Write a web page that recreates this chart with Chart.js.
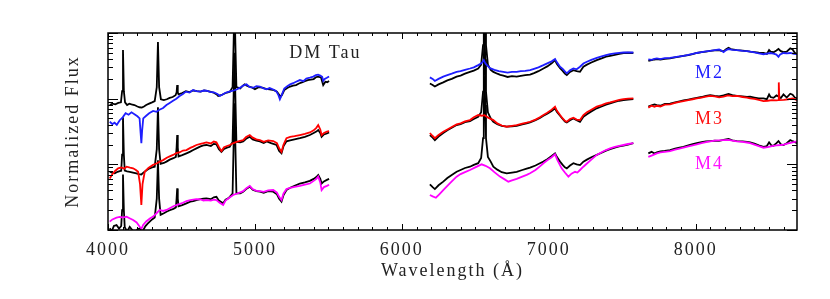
<!DOCTYPE html>
<html>
<head>
<meta charset="utf-8">
<script src="https://cdn.jsdelivr.net/npm/chart.js@4.4.0/dist/chart.umd.min.js"></script>
<style>
  html, body { margin: 0; padding: 0; background: #fff; }
  canvas { display: block; }
</style>
</head>
<body>
<canvas id="spectra" width="830" height="299"></canvas>
<script>
// wavelength (A), normalized flux (offset copies); null = gap between spectral segments
const m2Template = [
  [4012,44.5],[4030,41],[4045,43],[4060,40],[4080,47],[4100,52],[4120,60],[4140,57],[4160,62],[4180,58],[4200,54],[4215,50],[4222,30],[4227,21],[4232,32],[4240,50],[4260,55],[4280,60],[4307,65],[4330,63],[4350,68],[4375,72],[4398,80],[4420,86],[4440,92],[4465,100],[4488,110],[4510,118],[4530,128],[4555,124],[4579,135],[4600,130],[4630,128],[4650,133],[4670,132],[4695,127],[4720,125],[4745,118],[4761,110],[4780,116],[4800,123],[4825,128],[4852,132],[4875,138],[4900,147],[4920,158],[4943,165],[4965,150],[4990,147],[5010,155],[5034,153],[5060,143],[5080,139],[5100,145],[5125,138],[5145,130],[5160,113],[5170,98],[5180,110],[5200,143],[5220,155],[5240,165],[5260,172],[5280,181],[5306,192],[5330,185],[5350,203],[5375,210],[5397,217],[5415,228],[5430,232],[5445,224],[5458,215],[5465,186],[5475,200],[5490,208],[5505,217],
  null,
  [6191,211],[6210,200],[6225,186],[6250,200],[6282,217],[6310,228],[6340,240],[6373,256],[6400,262],[6430,275],[6464,288],[6490,300],[6520,324],[6545,350],[6558,387],[6570,340],[6600,292],[6630,275],[6660,262],[6691,256],[6720,250],[6750,255],[6782,256],[6810,262],[6840,265],[6873,272],[6900,285],[6930,300],[6964,324],[6990,345],[7020,370],[7043,401],[7055,360],[7077,306],[7095,285],[7110,260],[7123,243],[7145,270],[7168,288],[7190,280],[7213,306],[7236,343],[7260,365],[7290,390],[7327,418],[7360,440],[7390,460],[7418,475],[7450,488],[7480,497],[7509,505],[7540,508],[7576,505],
  null,
  [7678,396],[7700,390],[7720,405],[7736,410],[7760,400],[7790,415],[7826,418],[7860,430],[7890,440],[7917,449],[7950,465],[7980,480],[8008,496],[8040,510],[8070,525],[8099,535],[8130,548],[8160,560],[8175,540],[8190,510],[8205,545],[8224,570],[8250,555],[8281,547],[8320,535],[8350,530],[8371,520],[8400,505],[8430,490],[8462,475],[8485,485],[8508,496],[8530,485],[8550,470],[8564,434],[8575,470],[8598,496],[8620,490],[8644,496],[8670,480],[8693,475]
];

const dmTauTop = [
  [4012,80],[4030,84],[4050,82],[4070,86],[4088,88],[4096,130],[4102,549],[4108,130],[4116,88],[4130,80],[4145,84],[4160,82],[4180,80],[4200,76],[4215,74],[4230,73],[4245,76],[4260,80],[4280,84],[4300,88],[4318,92],[4332,150],[4340,730],[4348,150],[4360,98],[4380,95],[4400,98],[4420,103],[4440,106],[4460,113],[4467,125],[4471,161],[4475,125],[4480,116],[4505,122],[4530,130],[4555,126],[4580,133],[4605,130],[4630,128],[4655,134],[4680,130],[4700,127],[4720,123],[4740,116],[4750,110],[4770,113],[4790,119],[4810,124],[4830,128],[4848,150],[4855,700],[4861,3000],[4867,700],[4874,150],[4900,143],[4915,155],[4930,165],[4945,158],[4960,153],[4980,148],[5000,139],[5025,150],[5050,147],[5075,141],[5100,139],[5130,135],[5150,128],[5160,119],[5175,107],[5185,115],[5200,135],[5220,145],[5240,153],[5260,158],[5280,161],[5300,170],[5320,177],[5340,185],[5360,192],[5380,195],[5400,199],[5415,212],[5430,217],[5450,210],[5465,161],[5480,181],[5492,178],[5505,186],
  null,
  [6191,170],[6210,162],[6225,153],[6250,165],[6282,177],[6310,190],[6340,200],[6373,217],[6400,225],[6430,240],[6464,256],[6490,268],[6520,288],[6540,330],[6553,655],[6558,2000],[6563,6000],[6568,2000],[6573,655],[6586,330],[6605,275],[6623,256],[6650,240],[6670,230],[6691,224],[6720,214],[6750,220],[6782,217],[6810,222],[6840,228],[6873,232],[6900,245],[6930,262],[6964,288],[6990,310],[7020,345],[7043,387],[7055,340],[7077,292],[7095,265],[7110,240],[7123,229],[7145,255],[7168,272],[7190,262],[7213,256],[7236,306],[7260,330],[7290,355],[7327,387],[7360,410],[7390,435],[7418,449],[7450,465],[7480,480],[7509,496],[7540,500],[7576,496],
  null,
  [7678,375],[7700,385],[7720,395],[7736,401],[7760,395],[7790,405],[7826,410],[7860,425],[7890,435],[7917,449],[7950,460],[7980,478],[8008,496],[8040,510],[8070,522],[8099,535],[8130,545],[8160,550],[8175,535],[8190,525],[8205,560],[8224,596],[8240,570],[8260,560],[8281,549],[8320,540],[8350,530],[8371,520],[8400,510],[8430,500],[8462,496],[8485,480],[8500,549],[8510,520],[8530,510],[8550,540],[8564,570],[8580,530],[8598,510],[8620,520],[8644,585],[8660,560],[8675,500],[8693,475]
];

const m3Template = [
  [4012,6.1],[4025,6.8],[4035,7.3],[4050,8.0],[4069,8.7],[4090,9.0],[4110,8.6],[4126,9.2],[4150,8.9],[4171,8.7],[4190,8.2],[4205,7.7],[4218,5.0],[4227,2.4],[4235,5.0],[4250,7.7],[4275,8.8],[4307,9.8],[4330,10.3],[4352,11],[4375,11.6],[4400,12.6],[4420,13.2],[4443,13.9],[4465,14.8],[4490,15.3],[4510,16.2],[4534,16.5],[4560,17.8],[4580,18.6],[4602,19.7],[4630,20.5],[4650,21.0],[4670,21.6],[4700,20.8],[4720,22.2],[4738,21.6],[4755,18.4],[4772,15.9],[4790,18.2],[4810,19.0],[4829,19.7],[4850,20.9],[4875,22.0],[4900,22.8],[4920,23.4],[4940,26.0],[4965,27.9],[4985,25.5],[5010,24.0],[5034,23.4],[5060,22.0],[5090,23.2],[5125,22.6],[5150,21.0],[5165,17.5],[5181,15.5],[5195,20.0],[5215,25.0],[5240,26.2],[5270,26.8],[5306,27.9],[5340,29.0],[5374,30.6],[5400,33.0],[5418,36.0],[5431,39.6],[5445,34.0],[5454,27.9],[5470,30.0],[5490,31.5],[5505,32],
  null,
  [6191,30],[6210,27],[6225,25],[6250,28],[6282,31.3],[6310,34],[6340,37],[6373,40.5],[6400,42],[6430,45],[6464,47.2],[6490,52],[6520,56.3],[6545,55],[6563,56],[6590,51],[6623,47.2],[6650,42],[6680,39],[6714,37.4],[6750,38.5],[6782,39.6],[6820,41.5],[6850,43],[6873,44.5],[6910,48],[6940,52],[6964,56.3],[6990,61],[7020,68],[7043,75.5],[7055,66],[7077,56.3],[7095,50],[7110,46],[7123,44.5],[7145,49],[7168,51.3],[7190,48],[7213,47.2],[7236,56.3],[7260,62],[7290,68],[7327,75.5],[7360,80],[7390,85],[7418,87.6],[7450,92],[7480,96],[7509,98.7],[7540,100],[7576,101],
  null,
  [7678,73],[7700,78],[7720,75],[7736,78],[7760,76],[7790,81],[7826,82],[7860,86],[7890,89],[7917,92],[7950,95],[7980,98],[8008,101],[8040,104],[8070,107],[8099,110],[8130,108],[8160,105],[8190,107],[8220,112],[8250,109],[8281,110],[8320,106],[8350,104],[8371,101],[8400,99],[8430,96],[8462,92],[8490,93],[8520,95],[8550,94],[8562,95],[8566,177],[8570,95],[8600,96],[8630,98],[8660,101],[8693,95]
];

const dmTauMid = [
  [4012,7.7],[4030,7.4],[4046,7.3],[4065,7.7],[4080,7.9],[4090,8.0],[4096,14],[4102,52],[4108,14],[4114,8.0],[4130,7.8],[4148,7.7],[4170,7.5],[4193,7.3],[4210,7.1],[4227,7.0],[4245,7.6],[4265,8.2],[4284,8.7],[4300,9.0],[4318,9.2],[4332,17],[4340,74],[4348,17],[4358,10.2],[4380,10.5],[4398,11],[4420,11.8],[4445,12.4],[4462,13],[4467,18],[4471,27.9],[4475,18],[4480,13.2],[4505,13.8],[4534,14.7],[4560,15.6],[4580,16.5],[4602,17.5],[4630,18.8],[4650,19.4],[4670,19.7],[4700,19.0],[4720,20.5],[4738,20.2],[4755,17.0],[4772,15.5],[4790,17.2],[4810,18.0],[4829,18.5],[4848,22],[4855,110],[4861,500],[4867,110],[4874,22],[4900,21.6],[4920,22.4],[4940,24.5],[4965,26.3],[4985,24.0],[5010,23.0],[5034,22.4],[5060,21.2],[5080,22.4],[5110,21.0],[5147,19.7],[5165,16.0],[5181,14.7],[5195,19.0],[5215,22.4],[5240,23.2],[5270,24.0],[5306,25],[5340,26.2],[5374,28],[5400,30.0],[5418,31.5],[5431,33.3],[5445,30.0],[5454,26.3],[5470,28.5],[5490,29.5],[5505,30.6],
  null,
  [6191,27.9],[6210,25.5],[6225,23.4],[6250,26.5],[6282,30],[6310,33],[6340,36],[6373,39.6],[6400,41],[6430,44],[6464,45.5],[6490,49],[6520,53],[6540,62],[6553,128],[6558,400],[6563,1100],[6568,400],[6573,128],[6586,62],[6605,50],[6623,44.5],[6650,41],[6680,38.5],[6714,37.4],[6750,38],[6782,38.7],[6820,40.5],[6850,42],[6873,43.5],[6910,47],[6940,51],[6964,55],[6990,59],[7020,65],[7043,71.3],[7055,63],[7077,55],[7095,49],[7110,45],[7123,43.5],[7145,47],[7168,50],[7190,47],[7213,44.5],[7236,53],[7260,58],[7290,64],[7327,71.3],[7360,76],[7390,81],[7418,84.5],[7450,89],[7480,93],[7509,95.2],[7540,97],[7576,98.7],
  null,
  [7678,75.5],[7700,79],[7720,82],[7736,80],[7760,78],[7790,83],[7826,84],[7860,88],[7890,91],[7917,94],[7950,97],[7980,100],[8008,103],[8040,106],[8070,110],[8099,113],[8130,110],[8160,108],[8190,112],[8224,118],[8250,113],[8281,110],[8320,108],[8350,106],[8371,107],[8400,104],[8430,101],[8462,101],[8485,98],[8500,116],[8510,106],[8530,103],[8550,112],[8564,108],[8580,102],[8598,116],[8620,104],[8644,119],[8660,115],[8675,104],[8693,101]
];

const m4Template = [
  [4012,1.34],[4030,1.45],[4058,1.54],[4080,1.58],[4100,1.55],[4126,1.6],[4150,1.5],[4171,1.42],[4195,1.3],[4216,1.12],[4228,1.05],[4239,1.19],[4260,1.35],[4285,1.5],[4307,1.6],[4330,1.8],[4352,2.02],[4375,1.95],[4398,2.02],[4420,2.15],[4445,2.3],[4466,2.4],[4490,2.5],[4510,2.6],[4534,2.76],[4560,2.85],[4580,2.9],[4602,2.96],[4630,2.92],[4650,2.8],[4670,2.86],[4700,2.8],[4720,2.9],[4738,2.86],[4760,2.6],[4784,2.4],[4800,2.8],[4825,3.1],[4852,3.41],[4880,3.6],[4900,3.75],[4920,3.9],[4940,4.3],[4965,4.7],[4985,4.2],[5010,3.95],[5034,3.9],[5060,3.8],[5090,4.0],[5125,4.06],[5150,3.7],[5165,3.2],[5181,2.86],[5195,3.6],[5215,4.2],[5240,4.4],[5270,4.55],[5306,4.7],[5340,4.9],[5374,5.1],[5400,5.6],[5418,6.0],[5431,6.5],[5445,5.3],[5454,4.06],[5470,4.5],[5490,4.7],[5505,4.9],
  null,
  [6191,3.41],[6210,3.25],[6232,3.1],[6255,3.5],[6282,4.06],[6310,4.7],[6340,5.5],[6373,6.5],[6400,7.1],[6430,7.6],[6464,8.19],[6500,9.0],[6543,10],[6570,9.5],[6600,8.7],[6630,7.6],[6668,6.5],[6700,5.9],[6725,5.45],[6750,5.7],[6782,6.0],[6820,6.5],[6850,6.9],[6873,7.3],[6910,8.2],[6940,9.3],[6964,10.4],[6990,11.5],[7020,12.8],[7043,14.2],[7060,11.5],[7088,8.7],[7110,7.5],[7134,6.5],[7155,7.2],[7179,7.7],[7195,7.5],[7213,8.19],[7236,9.2],[7260,10.3],[7290,11.8],[7327,13.9],[7360,15.3],[7390,16.5],[7418,17.5],[7450,18.4],[7480,19.1],[7509,19.7],[7540,20.4],[7576,21],
  null,
  [7678,13],[7700,13.6],[7720,14.2],[7736,14.7],[7760,15.2],[7790,15.5],[7826,15.9],[7860,16.7],[7890,17.3],[7917,17.9],[7950,18.8],[7980,19.5],[8008,20.2],[8040,21],[8070,21.8],[8099,22.4],[8130,22.9],[8160,23.2],[8190,23.4],[8224,23.6],[8250,23],[8281,22.4],[8320,22],[8350,21.5],[8371,21],[8400,20],[8430,18.9],[8462,17.9],[8490,18.3],[8520,19],[8550,19.4],[8580,19.7],[8600,20],[8630,20.8],[8660,21.6],[8693,22.4]
];

const dmTauLow = [
  [4012,1.06],[4025,0.95],[4040,1.15],[4058,1.19],[4075,1.05],[4090,1.15],[4096,2.0],[4102,7.0],[4108,2.0],[4114,1.1],[4130,0.95],[4148,1.12],[4165,1.0],[4185,0.9],[4200,1.02],[4216,1.06],[4235,0.95],[4255,1.15],[4270,1.25],[4284,1.34],[4300,1.45],[4318,1.55],[4332,3.0],[4340,11.5],[4348,3.0],[4358,1.7],[4380,1.8],[4398,1.9],[4420,2.0],[4445,2.1],[4462,2.2],[4467,3.0],[4471,4.3],[4475,3.0],[4480,2.3],[4505,2.4],[4534,2.55],[4560,2.7],[4580,2.75],[4602,2.86],[4630,2.95],[4650,3.0],[4670,3.04],[4700,2.95],[4720,3.15],[4738,3.2],[4755,2.8],[4784,2.55],[4800,2.9],[4815,3.0],[4829,3.2],[4848,3.6],[4855,20],[4861,85],[4867,20],[4874,3.6],[4900,3.6],[4920,3.83],[4940,4.2],[4965,4.56],[4985,4.1],[5010,3.9],[5034,3.83],[5060,3.7],[5090,3.9],[5125,3.83],[5150,3.5],[5165,3.0],[5181,2.7],[5195,3.4],[5215,4.06],[5240,4.4],[5270,4.7],[5306,5.1],[5340,5.3],[5374,5.6],[5400,6.0],[5418,6.4],[5431,6.87],[5445,6.0],[5454,5.1],[5470,5.5],[5490,5.8],[5505,6.0],
  null,
  [6191,4.95],[6210,4.5],[6225,4.2],[6250,4.8],[6282,5.45],[6310,6.2],[6340,6.9],[6373,7.7],[6400,8.2],[6430,8.8],[6464,9.2],[6490,9.8],[6520,10.4],[6540,12.5],[6553,25],[6558,80],[6563,220],[6568,80],[6573,25],[6586,13],[6605,11],[6623,9.2],[6650,8.3],[6680,7.6],[6714,7.3],[6750,7.5],[6782,7.7],[6820,8.2],[6850,8.6],[6873,8.9],[6910,9.6],[6940,10.4],[6964,11],[6990,12],[7020,13.4],[7043,14.7],[7055,13],[7077,11],[7095,9.8],[7110,9.0],[7123,8.7],[7145,9.6],[7168,10.4],[7190,10],[7213,9.76],[7236,11],[7260,11.8],[7290,12.8],[7327,13.9],[7360,15],[7390,16.2],[7418,17.1],[7450,18],[7480,18.7],[7509,19.2],[7540,20],[7576,21],
  null,
  [7678,14.7],[7700,15.5],[7720,14.6],[7736,15.2],[7760,15.8],[7790,16],[7826,16.5],[7860,17.4],[7890,18],[7917,18.5],[7950,19.5],[7980,20.3],[8008,21],[8040,21.8],[8070,22.3],[8099,22.6],[8130,23],[8160,22.8],[8190,23.5],[8224,24.4],[8250,23.2],[8281,22.6],[8320,22.4],[8350,22],[8371,21.6],[8400,20.6],[8430,19.5],[8462,18.5],[8485,19],[8500,21.6],[8515,19.5],[8530,19.2],[8550,21],[8564,22.6],[8580,20.2],[8598,19.7],[8620,21],[8644,23.4],[8660,22.5],[8675,21.8],[8693,21]
];

const xTicks = [4000, 5000, 6000, 7000, 8000];
const spectrumLabels = ['DM Tau', 'M2', 'M3', 'M4'];

const SERIF = "'Liberation Serif', 'DejaVu Serif', serif";

// turn [w, f] pairs into chart points, null -> line break
function toPoints(pairs) {
  let last = 0;
  return pairs.map(p => {
    if (!p) return {x: last + 1, y: null};
    last = p[0];
    return {x: p[0], y: p[1]};
  });
}

function line(pairs, color) {
  return {
    data: toPoints(pairs),
    borderColor: color,
    borderWidth: 1.8,
    pointRadius: 0,
    tension: 0,
    fill: false,
    spanGaps: false
  };
}

// box, inward ticks and in-plot labels, IDL style
const idlFrame = {
  id: 'idlFrame',
  beforeDraw(chart) {
    chart.ctx.letterSpacing = '2px';
  },
  afterDatasetsDraw(chart) {
    const {ctx, chartArea: a, scales: {x, y}} = chart;
    ctx.save();
    ctx.strokeStyle = '#000';
    ctx.lineWidth = 1;
    ctx.beginPath();
    for (let w = 4000; w <= x.max; w += 100) {
      const px = Math.round(x.getPixelForValue(w)) + 0.5;
      const len = w % 1000 === 0 ? 6 : 3;
      ctx.moveTo(px, a.bottom); ctx.lineTo(px, a.bottom - len);
      ctx.moveTo(px, a.top); ctx.lineTo(px, a.top + len);
    }
    for (let dec = 1; dec <= 1000; dec *= 10) {
      for (let k = 1; k < 10; k++) {
        const v = k * dec;
        if (v > y.max) break;
        const py = Math.round(y.getPixelForValue(v)) + 0.5;
        const len = k === 1 ? 10 : 5;
        ctx.moveTo(a.left, py); ctx.lineTo(a.left + len, py);
        ctx.moveTo(a.right, py); ctx.lineTo(a.right - len, py);
      }
    }
    ctx.stroke();
    ctx.lineWidth = 1.5;
    ctx.strokeRect(a.left, a.top, a.right - a.left, a.bottom - a.top);

    ctx.font = '18px ' + SERIF;
    ctx.letterSpacing = '2px';
    ctx.textAlign = 'center';
    ctx.textBaseline = 'middle';
    const spots = [
      [5480, 494, '#222222'],
      [8095, 245, '#2020ff'],
      [8095, 48.9, '#ff1010'],
      [8095, 9.9, '#ff10ff']
    ];
    spots.forEach(([w, f, c], i) => {
      ctx.fillStyle = c;
      ctx.fillText(spectrumLabels[i], x.getPixelForValue(w), y.getPixelForValue(f));
    });
    ctx.restore();
  }
};

const ctx = document.getElementById('spectra').getContext('2d');
const spectraChart = new Chart(ctx, {
  type: 'line',
  data: {
    datasets: [
      line(m2Template, '#1e1eff'),
      line(m3Template, '#ff0000'),
      line(m4Template, '#ff00ff'),
      line(dmTauTop, '#000000'),
      line(dmTauMid, '#000000'),
      line(dmTauLow, '#000000')
    ]
  },
  options: {
    responsive: false,
    animation: false,
    devicePixelRatio: 1,
    layout: { padding: { left: 0, right: 33, top: 33, bottom: 0 } },
    scales: {
      x: {
        type: 'linear',
        min: 4000,
        max: 8690,
        grid: { display: false, drawTicks: false },
        border: { display: false },
        afterBuildTicks: s => { s.ticks = xTicks.map(v => ({value: v})); },
        ticks: {
          padding: 9,
          maxRotation: 0,
          autoSkip: false,
          color: '#222',
          font: { family: SERIF, size: 18 },
          callback: v => String(v)
        },
        title: {
          display: true,
          text: 'Wavelength (Å)',
          color: '#222',
          font: { family: SERIF, size: 18 },
          padding: { top: 0, bottom: 17 }
        },
        afterFit: s => { s.height = 69; }
      },
      y: {
        type: 'logarithmic',
        min: 1,
        max: 1000,
        grid: { display: false, drawTicks: false },
        border: { display: false },
        ticks: { display: false },
        title: {
          display: true,
          text: 'Normalized Flux',
          color: '#222',
          font: { family: SERIF, size: 18 },
          padding: { top: 62, bottom: 0 }
        },
        afterFit: s => { s.width = 108; }
      }
    },
    plugins: {
      legend: { display: false },
      tooltip: { enabled: false }
    }
  },
  plugins: [idlFrame]
});
</script>
</body>
</html>
